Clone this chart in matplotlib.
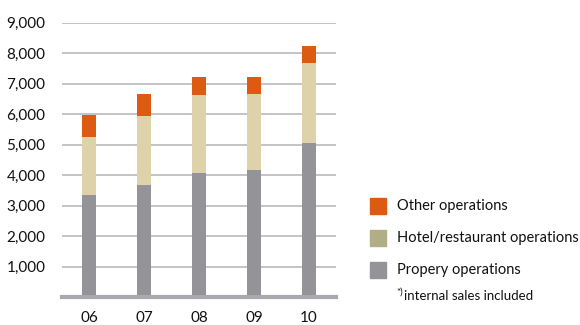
import matplotlib
matplotlib.use("Agg")
import matplotlib.pyplot as plt
from matplotlib.patches import Rectangle

plt.rcParams['font.family'] = ['Lato', 'DejaVu Sans']

# Net sales by segment, stacked (MSEK)
years = ["06", "07", "08", "09", "10"]
property_ops = [3350, 3670, 4070, 4160, 5050]
hotel_ops = [1900, 2270, 2550, 2490, 2620]
other_ops = [720, 710, 590, 560, 560]

GREY = "#939398"
BEIGE = "#ddd2aa"
OLIVE = "#b1ad87"
ORANGE = "#dd5a13"
GRID = "#b4b4b8"
INK = "#111111"

W, H = 580, 325
fig = plt.figure(figsize=(W / 100, H / 100), dpi=100)
ax = fig.add_axes([62 / W, (H - 297) / H, (336 - 62) / W, (297 - 22.7) / H])

x = range(len(years))
bw = 0.255
hotel_bottom = property_ops
other_bottom = [p + h for p, h in zip(property_ops, hotel_ops)]

ax.bar(x, property_ops, bw, color=GREY, zorder=2)
ax.bar(x, hotel_ops, bw, bottom=hotel_bottom, color=BEIGE, zorder=2)
ax.bar(x, other_ops, bw, bottom=other_bottom, color=ORANGE, zorder=2)

ax.set_xlim(-0.49, 4.49)
ax.set_ylim(0, 9000)
ax.set_yticks(range(1000, 10000, 1000))
ax.set_yticklabels(["{:,}".format(v) for v in range(1000, 10000, 1000)])
ax.set_xticks(list(x))
ax.set_xticklabels(years)
ax.yaxis.grid(True, color=GRID, linewidth=1.1, zorder=1)
ax.axhline(0, color="#a9a9ad", linewidth=3, zorder=3, clip_on=False)
ax.tick_params(length=0, labelsize=11, colors=INK)
ax.tick_params(axis="y", pad=12)
ax.tick_params(axis="x", pad=10)
for s in ax.spines.values():
    s.set_visible(False)

# legend drawn by hand
legend = [(ORANGE, "Other operations", 198),
          (OLIVE, "Hotel/restaurant operations", 230),
          (GREY, "Propery operations", 262)]
for col, txt, top in legend:
    fig.patches.append(Rectangle((370 / W, (H - top - 16) / H), 16 / W, 16 / H,
                                 transform=fig.transFigure, color=col))
    fig.text(397 / W, (H - top - 8) / H, txt, fontsize=10.5, va="center",
             color=INK)
fig.text(396 / W, (H - 292) / H, "*)", fontsize=7, va="center", color=INK)
fig.text(404 / W, (H - 296) / H, "internal sales included", fontsize=9.5,
         va="center", color=INK)

fig.savefig("out.png", dpi=100)
